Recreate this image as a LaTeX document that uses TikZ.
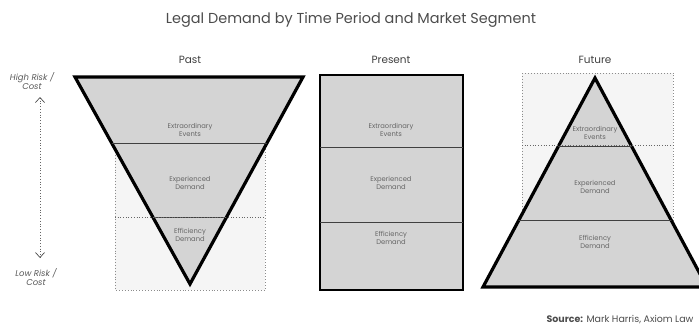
\documentclass[tikz,border=0pt]{standalone}
\usepackage{fontspec}
\setmainfont{Poppins}
\usetikzlibrary{arrows.meta}

\tikzset{
  bigshape/.style={line width=3.2bp, line join=miter, fill=black!17},
  backbox/.style={draw=black!45, dotted, line width=0.9bp, fill=black!4},
  layer/.style={line width=0.7bp, draw=black!75},
  guide/.style={dotted, line width=0.7bp, draw=black!60},
  segtext/.style={font=\fontsize{6.8}{7.4}\selectfont, text=black!60, align=center},
  coltitle/.style={font=\fontsize{10.5}{12}\selectfont, text=black!75},
  risktext/.style={font=\itshape\fontsize{8.5}{9.5}\selectfont, text=black!65, align=center},
  riskhead/.tip={Straight Barb[length=5bp, width=9bp, line width=0.7bp, black!70]},
}

\begin{document}
\begin{tikzpicture}[x=1bp, y=-1bp]
			%%%%% START %%%%%
			\useasboundingbox (0,0) rectangle (699,330);
			\clip (0,0) rectangle (699,330);
			
			\node[font=\fontsize{14.5}{16}\selectfont, text=black!70] (title) at (351, 20) {Legal Demand by Time Period and Market Segment};
			
			% past
			\node[coltitle] (pasthead) at (190, 60) {Past};
			\draw[backbox] (115, 77) rectangle (265, 290);
			\draw[bigshape] (75, 77) -- (303, 77) -- (190, 284) -- cycle;
			\begin{scope}
				\clip (75, 77) -- (303, 77) -- (190, 284) -- cycle;
				\draw[layer] (60, 143) -- (320, 143);
				\draw[layer] (60, 217) -- (320, 217);
			\end{scope}
			\draw[guide] (115, 217) -- (265, 217);
			\node[segtext] (pastevents) at (190, 130) {Extraordinary\\Events};
			\node[segtext] (pastexp) at (190, 183) {Experienced\\Demand};
			\node[segtext] (pasteff) at (190, 235) {Efficiency\\Demand};
			
			% present
			\node[coltitle] (presenthead) at (391, 60) {Present};
			\draw[bigshape, line width=2.8bp] (320, 75) rectangle (463, 290);
			\draw[layer] (320, 147) -- (463, 147);
			\draw[layer] (320, 222) -- (463, 222);
			\node[segtext] (presentevents) at (391, 130) {Extraordinary\\Events};
			\node[segtext] (presentexp) at (391, 183) {Experienced\\Demand};
			\node[segtext] (presenteff) at (391, 238) {Efficiency\\Demand};
			
			% future
			\node[coltitle] (futurehead) at (595, 60) {Future};
			\draw[backbox] (522, 73) rectangle (673, 287);
			\draw[bigshape] (483, 287) -- (595, 78) -- (707, 287) -- cycle;
			\draw[guide] (522, 145) -- (673, 145);
			\begin{scope}
				\clip (483, 287) -- (595, 78) -- (707, 287) -- cycle;
				\draw[layer] (470, 146) -- (720, 146);
				\draw[layer] (470, 220) -- (720, 220);
			\end{scope}
			\node[segtext] (futureevents) at (595, 133) {Extraordinary\\Events};
			\node[segtext] (futureexp) at (595, 187) {Experienced\\Demand};
			\node[segtext] (futureeff) at (595, 242) {Efficiency\\Demand};
			
			% risk axis
			\node[risktext] (highrisk) at (32, 81) {High Risk /\\Cost};
			\node[risktext] (lowrisk) at (36, 277) {Low Risk /\\Cost};
			\coordinate (axistop) at (40, 97);
			\coordinate (axisbot) at (40, 258);
			\draw[dotted, line width=0.8bp, draw=black!60, riskhead-riskhead] (axistop) -- (axisbot);
			
			\node[anchor=east, font=\fontsize{9.5}{11}\selectfont, text=black!70] (source) at (697, 320) {\textbf{Source:} Mark Harris, Axiom Law};
			%%%%% END %%%%%
		\end{tikzpicture}
\end{document}
